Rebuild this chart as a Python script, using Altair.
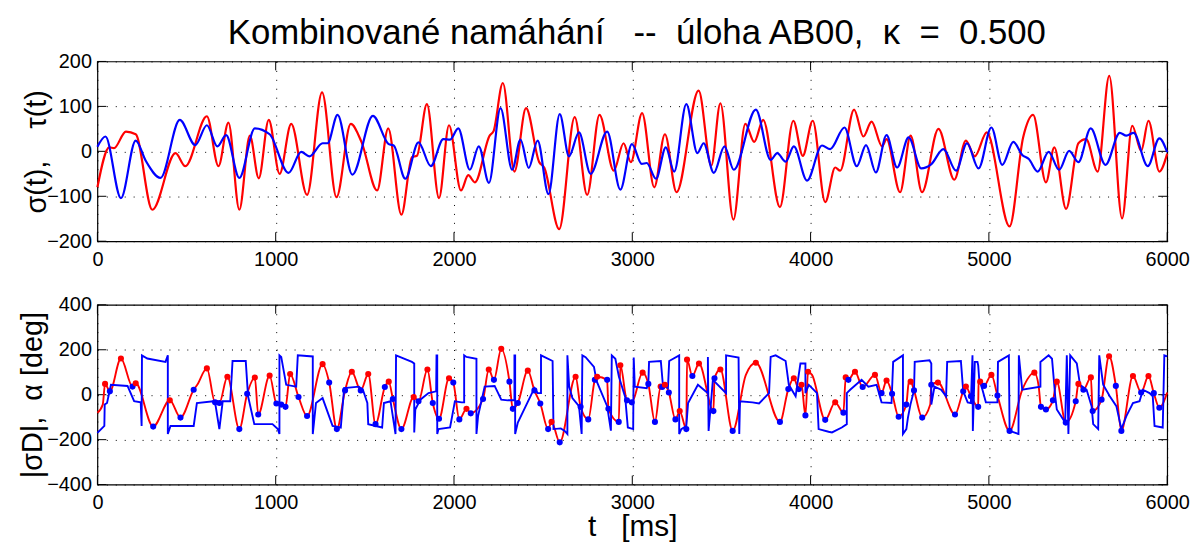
import altair as alt
import pandas as pd

TITLE = "Kombinované namáhání\u00a0\u00a0 --\u00a0 úloha AB00,\u00a0\u00a0κ\u00a0 =\u00a0 0.500"
TOP_YTITLE = "σ(t),\u00a0\u00a0\u00a0 τ(t)"
BOT_YTITLE = "|σD|,\u00a0 α [deg]"
XTITLE = "t\u00a0\u00a0 [ms]"
X_TICKS = [0, 1000, 2000, 3000, 4000, 5000, 6000]
TOP_Y_TICKS = [-200, -100, 0, 100, 200]
BOT_Y_TICKS = [-400, -200, 0, 200, 400]

SIGMA = [(0,-80),(67,9),(93,7),(160,44),(215,38),(308,-130),(438,-4),(493,-33),(614,78),(679,-33),(735,64),(796,-130),(855,35),(905,-60),(961,70),(1022,-50),(1087,61),(1176,-97),(1260,131),(1341,-102),(1421,61),(1482,20),(1569,-87),(1631,51),(1705,-141),(1764,-13),(1792,-10),(1848,105),(1916,-104),(1972,58),(2039,-87),(2080,-53),(2117,-69),(2200,35),(2222,45),(2274,152),(2339,-45),(2404,96),(2478,-24),(2506,-36),(2590,-173),(2677,76),(2747,-97),(2816,81),(2896,-43),(2951,18),(2992,-24),(3055,85),(3123,-80),(3183,38),(3248,-91),(3372,135),(3443,-32),(3494,107),(3567,-152),(3634,61),(3684,21),(3734,70),(3828,-124),(3903,68),(3956,-10),(4012,68),(4082,-113),(4138,-36),(4166,-43),(4244,93),(4296,33),(4342,66),(4401,11),(4426,27),(4502,-91),(4561,35),(4625,-91),(4717,50),(4806,-63),(4871,24),(4921,-11),(4988,42),(5116,-167),(5192,31),(5248,81),(5320,-69),(5367,9),(5433,-128),(5502,18),(5545,27),(5610,-45),(5675,168),(5747,-149),(5804,57),(5854,1),(5895,68),(5956,-45),(6000,-5)]

TAU = [(0,10),(45,33),(132,-104),(215,24),(271,-21),(354,-59),(462,70),(549,14),(614,58),(673,11),(722,36),(796,-59),(883,51),(966,38),(1072,-48),(1143,-1),(1189,-11),(1263,18),(1291,18),(1347,81),(1430,-52),(1545,79),(1634,16),(1662,13),(1727,-61),(1801,20),(1870,-33),(1940,27),(1978,26),(2024,51),(2089,-41),(2139,11),(2196,-70),(2261,96),(2326,-41),(2373,26),(2419,-37),(2469,24),(2530,-95),(2593,83),(2645,-11),(2701,42),(2766,-50),(2859,44),(2933,-85),(2998,16),(3053,-28),(3081,-26),(3133,-61),(3188,9),(3235,-45),(3303,105),(3365,-4),(3400,18),(3457,-48),(3517,11),(3569,-41),(3693,93),(3776,-19),(3813,-4),(3860,-23),(3906,11),(3980,-65),(4064,13),(4110,5),(4190,53),(4259,-33),(4311,14),(4366,-47),(4426,36),(4485,-36),(4550,31),(4621,-38),(4676,-29),(4745,5),(4816,-43),(4877,18),(4942,-38),(5014,53),(5075,-30),(5137,21),(5187,-8),(5224,-17),(5274,-45),(5335,-1),(5394,-41),(5450,1),(5502,-24),(5571,51),(5654,-30),(5734,41),(5771,35),(5812,41),(5891,-33),(5956,29),(6000,-2)]

SD = [(0,-80,""),(30,-44,""),(43,48,"r"),(70,15,"b"),(132,161,"r"),(197,36,"b"),(215,51,"r"),(313,-142,"b"),(406,-25,"r"),(466,-102,"b"),(540,22,"b"),(560,44,""),(614,117,"r"),(660,-34,"b"),(672,-28,""),(684,-37,"b"),(729,80,"r"),(796,-153,"b"),(840,4,"b"),(883,76,"r"),(902,-88,"b"),(966,85,"r"),(1004,-39,"b"),(1031,-44,"b"),(1055,-54,"b"),(1081,92,"r"),(1128,-10,"b"),(1176,-95,"b"),(1263,136,"r"),(1300,54,"b"),(1343,-153,"b"),(1389,19,"b"),(1427,102,"r"),(1477,19,"b"),(1519,92,"r"),(1560,-131,"b"),(1612,34,"b"),(1634,58,"r"),(1657,-19,"b"),(1705,-153,"b"),(1774,-10,"r"),(1801,-29,"b"),(1851,112,"r"),(1881,-37,"b"),(1916,-107,"b"),(1972,73,"r"),(1996,54,"b"),(2030,-110,"b"),(2070,-63,"r"),(2094,-83,"b"),(2163,-19,"b"),(2195,112,"r"),(2224,66,"b"),(2265,204,"r"),(2311,58,"b"),(2330,-63,"b"),(2358,-37,"b"),(2414,107,"r"),(2451,19,"b"),(2484,-39,"b"),(2528,-153,"b"),(2547,-121,"r"),(2593,-212,"b"),(2682,80,"r"),(2710,-54,"b"),(2753,-110,"b"),(2790,66,"b"),(2803,80,"r"),(2859,66,"b"),(2866,-63,"b"),(2924,-121,"b"),(2933,131,"r"),(2970,-25,"b"),(2997,-34,"b"),(3058,98,"r"),(3090,48,"b"),(3127,-121,"b"),(3159,36,"r"),(3168,34,"b"),(3183,44,"r"),(3205,10,"b"),(3242,-110,"b"),(3266,-73,"r"),(3303,-153,"b"),(3307,156,"r"),(3337,83,"b"),(3374,139,"r"),(3455,-73,"b"),(3461,73,"b"),(3494,112,"r"),(3563,-161,"b"),(3637,88,""),(3693,142,"r"),(3828,-121,"b"),(3875,25,"b"),(3906,73,"r"),(3934,25,"b"),(3949,44,"r"),(3971,-92,"b"),(3986,102,"r"),(4008,88,""),(4082,-112,"b"),(4138,-34,"r"),(4184,-80,"b"),(4197,77,"r"),(4212,66,"b"),(4249,102,"r"),(4292,34,"b"),(4361,88,"r"),(4398,7,"b"),(4426,63,"r"),(4457,4,"b"),(4494,-98,"b"),(4537,-44,"b"),(4550,51,""),(4561,58,"r"),(4580,19,"b"),(4626,-102,"b"),(4671,-44,""),(4677,44,"b"),(4714,54,"r"),(4810,-88,"b"),(4856,15,"b"),(4871,36,"r"),(4899,-7,"b"),(4940,-54,"b"),(4942,63,""),(4951,58,"r"),(4973,39,"b"),(5014,88,"r"),(5048,-4,"b"),(5116,-161,"b"),(5187,22,""),(5255,98,"r"),(5279,39,""),(5292,-54,"b"),(5320,-66,"b"),(5359,-25,"b"),(5381,58,"r"),(5431,-124,"b"),(5487,-29,"b"),(5502,48,"r"),(5530,22,"b"),(5572,77,"r"),(5582,-73,"b"),(5632,-22,"b"),(5674,171,"r"),(5712,39,"b"),(5743,-161,"b"),(5808,83,"r"),(5854,10,"b"),(5895,83,"r"),(5925,7,"b"),(5956,-58,"b"),(6000,10,"")]

ALPHA = [(0,-170),(39,-139),(41,-44),(54,-37),(76,44),(169,39),(206,-29),(243,-34),(248,-139),(250,175),(280,161),(382,146),(395,175),(395,-175),(410,-139),(540,-139),(558,-37),(650,-29),(660,-34),(684,-153),(703,-29),(745,-29),(758,150),(832,150),(845,-7),(880,-131),(982,-131),(1012,-153),(1021,-175),(1021,175),(1031,168),(1059,44),(1115,36),(1124,175),(1208,170),(1208,-175),(1226,-37),(1263,-15),(1319,-139),(1365,-146),(1384,29),(1467,36),(1490,20),(1514,-37),(1519,-131),(1597,-146),(1607,-37),(1644,-29),(1672,-175),(1675,175),(1764,146),(1777,139),(1777,-168),(1783,-66),(1811,-22),(1857,7),(1900,15),(1902,175),(1906,175),(1906,-175),(1913,-153),(1978,-146),(2005,-29),(2043,-34),(2057,-34),(2057,175),(2070,168),(2126,160),(2126,-175),(2135,-95),(2172,36),(2228,39),(2265,-22),(2302,-25),(2339,-25),(2339,175),(2343,175),(2343,-175),(2358,-124),(2451,29),(2469,7),(2488,7),(2488,175),(2553,150),(2558,-153),(2599,-150),(2621,-161),(2636,-175),(2636,175),(2646,36),(2664,-15),(2701,-51),(2716,-175),(2720,175),(2738,167),(2785,124),(2800,60),(2859,-51),(2880,-160),(2885,175),(2905,160),(2925,80),(2960,-10),(2975,-146),(3005,-153),(3008,165),(3014,36),(3081,29),(3090,51),(3094,146),(3160,150),(3172,40),(3200,30),(3207,150),(3263,175),(3263,-175),(3275,-153),(3303,-139),(3313,-37),(3368,44),(3424,7),(3424,168),(3428,-161),(3452,66),(3526,7),(3526,175),(3596,165),(3600,-175),(3604,-29),(3674,-34),(3711,-39),(3767,7),(3776,168),(3804,175),(3860,150),(3878,44),(3916,-7),(3943,139),(3971,139),(3971,7),(3990,44),(4036,7),(4045,-153),(4101,-165),(4120,-168),(4175,-146),(4203,-131),(4203,7),(4222,22),(4286,66),(4324,36),(4370,44),(4398,-34),(4454,-37),(4463,146),(4518,175),(4518,-175),(4537,-153),(4546,-102),(4560,-44),(4580,19),(4584,146),(4667,153),(4677,139),(4677,-44),(4695,36),(4732,22),(4760,-7),(4766,146),(4843,150),(4856,15),(4881,-34),(4899,-37),(4908,175),(4910,-161),(4921,146),(4936,146),(4940,131),(4946,66),(4964,22),(4983,-34),(5048,-34),(5051,146),(5112,175),(5116,-161),(5166,-175),(5168,175),(5187,22),(5289,36),(5289,146),(5335,175),(5354,160),(5372,-7),(5381,-66),(5428,-124),(5437,175),(5446,-175),(5456,175),(5493,139),(5511,44),(5548,22),(5576,-51),(5585,-131),(5613,-153),(5619,175),(5641,44),(5678,-7),(5715,-51),(5743,-153),(5771,-95),(5808,-37),(5845,-29),(5864,22),(5901,7),(5919,-7),(5929,-139),(5975,-146),(5984,175),(6000,170)]

W, H = 1077, 181
FONT = "Liberation Sans"
RED = "#ff0000"
BLUE = "#0000ff"

df_sigma = pd.DataFrame(SIGMA, columns=["t", "v"])
df_tau = pd.DataFrame(TAU, columns=["t", "v"])
df_sd = pd.DataFrame(SD, columns=["t", "v", "k"])
df_alpha = pd.DataFrame(ALPHA, columns=["t", "v"])
df_alpha["i"] = range(len(df_alpha))
df_xt = pd.DataFrame({"t": X_TICKS})

AX = dict(labelFont=FONT, labelFontSize=20, labelColor="black", grid=True,
          gridColor="black", gridDash=[1, 8], gridOpacity=1, gridWidth=1,
          ticks=False, domain=False, labelFlush=False)


def panel(lines, yticks, ydomain, ytitle, xtitle, title_x):
    if xtitle is None:
        xaxis = alt.Axis(values=X_TICKS, title=None, format="d", labelPadding=8, **AX)
    else:
        xaxis = alt.Axis(values=X_TICKS, title=xtitle, format="d", labelPadding=8,
                         titleFontSize=30, titleFont=FONT, titleColor="black",
                         titleFontWeight="normal", titleBaseline="alphabetic", titleY=51, **AX)
    x = alt.X("t:Q", scale=alt.Scale(domain=[0, 6000], nice=False, zero=False), axis=xaxis)
    y = alt.Y("v:Q", scale=alt.Scale(domain=ydomain, nice=False),
              axis=alt.Axis(values=yticks, title=ytitle, format="d", labelPadding=6,
                            titleFontSize=29, titleFont=FONT, titleFontWeight="normal",
                            titleColor="black", titleX=title_x, titleBaseline="bottom", **AX))
    df_yt = pd.DataFrame({"v": yticks})
    tick_len = 9
    layers = [
        alt.Chart(df_xt).mark_rule(color="black", strokeWidth=1).encode(
            x=x, y=alt.value(0), y2=alt.value(tick_len)),
        alt.Chart(df_xt).mark_rule(color="black", strokeWidth=1).encode(
            x=x, y=alt.value(H), y2=alt.value(H - tick_len)),
        alt.Chart(df_yt).mark_rule(color="black", strokeWidth=1).encode(
            y=y, x=alt.value(0), x2=alt.value(tick_len)),
        alt.Chart(df_yt).mark_rule(color="black", strokeWidth=1).encode(
            y=y, x=alt.value(W), x2=alt.value(W - tick_len)),
    ]
    for fn in lines:
        layers.append(fn(x, y))
    return alt.layer(*layers).properties(width=W, height=H)


def top_red(x, y):
    return alt.Chart(df_sigma).mark_line(color=RED, strokeWidth=2.2, interpolate="monotone").encode(x=x, y=y)


def top_blue(x, y):
    return alt.Chart(df_tau).mark_line(color=BLUE, strokeWidth=2.2, interpolate="monotone").encode(x=x, y=y)


def bot_red(x, y):
    return alt.Chart(df_sd).mark_line(color=RED, strokeWidth=1.9, interpolate="monotone").encode(x=x, y=y)


def bot_blue(x, y):
    return alt.Chart(df_alpha).mark_line(color=BLUE, strokeWidth=1.9).encode(
        x=x, y=y, order=alt.Order("i:Q"))


def bot_dots(x, y):
    return alt.Chart(df_sd).transform_filter("datum.k != ''").mark_circle(size=38, opacity=1).encode(
        x=x, y=y,
        color=alt.Color("k:N", scale=alt.Scale(domain=["r", "b"], range=[RED, BLUE]), legend=None))


top = panel([top_red, top_blue], TOP_Y_TICKS, [-200, 200], TOP_YTITLE, None, -46)
bottom = panel([bot_red, bot_blue, bot_dots], BOT_Y_TICKS, [-400, 400], BOT_YTITLE, XTITLE, -50)

chart = alt.vconcat(top, bottom, spacing=24).properties(
    background="white",
    padding={"left": 10, "top": 6, "right": 5, "bottom": 0},
    title=alt.TitleParams(TITLE, fontSize=35, font=FONT, fontWeight="normal", anchor="middle",
                          offset=0, color="black", dx=33)
).configure_view(stroke="black", strokeWidth=1.2)

chart.save("out.html", embed_options={"renderer": "svg", "actions": False})
